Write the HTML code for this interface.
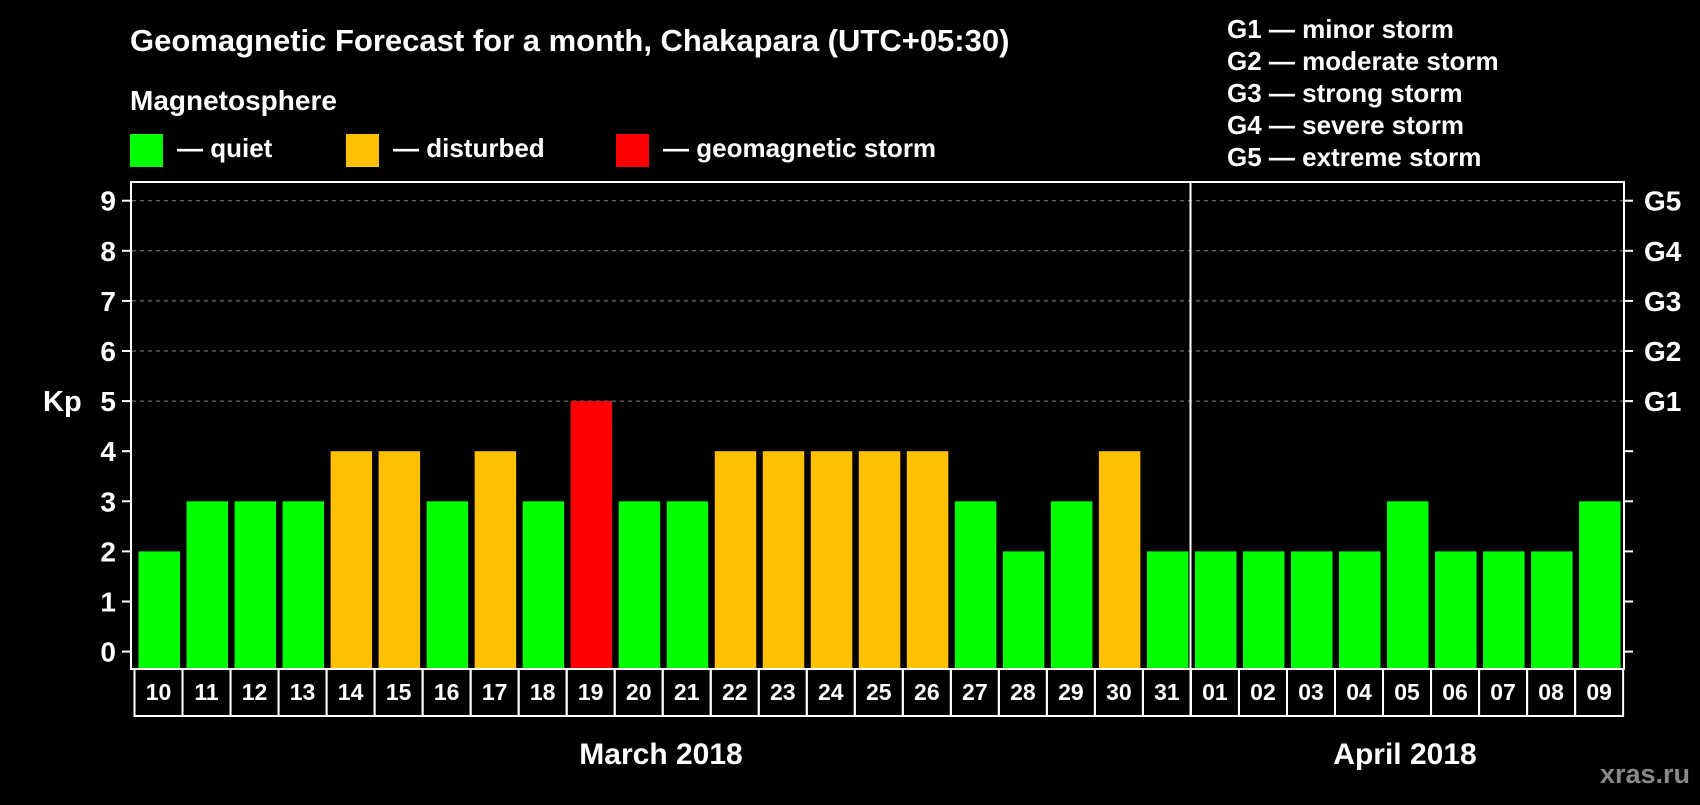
<!DOCTYPE html>
<html><head><meta charset="utf-8"><style>
body{margin:0;background:#000;}
svg text{font-family:"Liberation Sans",sans-serif;font-weight:bold;fill:#fff;}
</style></head><body>
<svg width="1700" height="800" xmlns="http://www.w3.org/2000/svg">
<rect width="1700" height="800" fill="#000"/>
<text x="130" y="51" font-size="31">Geomagnetic Forecast for a month, Chakapara (UTC+05:30)</text>
<text x="130" y="110" font-size="28">Magnetosphere</text>
<rect x="130" y="134" width="33" height="33" fill="#00ff00"/>
<text x="177" y="157" font-size="26">— quiet</text>
<rect x="346" y="134" width="33" height="33" fill="#ffc000"/>
<text x="393" y="157" font-size="26">— disturbed</text>
<rect x="616" y="134" width="33" height="33" fill="#ff0000"/>
<text x="663" y="157" font-size="26">— geomagnetic storm</text>
<g font-size="26">
<text x="1227" y="38">G1 — minor storm</text>
<text x="1227" y="70">G2 — moderate storm</text>
<text x="1227" y="102">G3 — strong storm</text>
<text x="1227" y="134">G4 — severe storm</text>
<text x="1227" y="166">G5 — extreme storm</text>
</g>
<text x="43" y="411" font-size="29">Kp</text>
<g id="grid"></g><g id="bars"></g><g id="cells"></g>
<rect x="131" y="182" width="1493" height="487" fill="none" stroke="#fff" stroke-width="2"/>
<line x1="1190.5" y1="182" x2="1190.5" y2="716" stroke="#fff" stroke-width="2"/>
<text x="661" y="764" font-size="30" text-anchor="middle">March 2018</text>
<text x="1405" y="764" font-size="30" text-anchor="middle">April 2018</text>
<text x="1690" y="783" font-size="27" text-anchor="end" style="fill:#888">xras.ru</text>
</svg>
<script>
const days=["10","11","12","13","14","15","16","17","18","19","20","21","22","23","24","25","26","27","28","29","30","31","01","02","03","04","05","06","07","08","09"];
const kpValues=[2,3,3,3,4,4,3,4,3,5,3,3,4,4,4,4,4,3,2,3,4,2,2,2,2,2,3,2,2,2,3];
const yTicks=[0,1,2,3,4,5,6,7,8,9];
const gLabels=["","","","","","G1","G2","G3","G4","G5"];
const NS="http://www.w3.org/2000/svg";
const x0=134.5,slot=48.02,plotBottom=669;
function y(v){return 651.6-v*50.1;}
function xs(i){return x0+i*slot;}
function mk(t,a,p){const e=document.createElementNS(NS,t);for(const k in a)e.setAttribute(k,a[k]);p.appendChild(e);return e;}
const grid=document.getElementById('grid'),bars=document.getElementById('bars'),cells=document.getElementById('cells');
yTicks.forEach((v,i)=>{
 if(v>=5){const l=mk('line',{x1:132,x2:1623,y1:y(v),y2:y(v),stroke:'#888','stroke-dasharray':'4 4'},grid);
 
 }
 const t1=mk('line',{x1:122,x2:131,y1:y(v),y2:y(v),stroke:'#fff','stroke-width':2},grid);
 
 
 const t2=mk('line',{x1:1624,x2:1633,y1:y(v),y2:y(v),stroke:'#fff','stroke-width':2},grid);
 
 
 const tl=mk('text',{x:116,y:y(v)+10,'font-size':28,'text-anchor':'end'},grid);tl.textContent=v;
 
 
 if(gLabels[i]){const g=mk('text',{x:1644,y:y(v)+10,'font-size':28},grid);g.textContent=gLabels[i];
 
 }
});
kpValues.forEach((v,i)=>{
 const c=v>=5?'#ff0000':v>=4?'#ffc000':'#00ff00';
 const b=mk('rect',{x:xs(i)+4,y:y(v),width:41.5,height:plotBottom-1-y(v),fill:c},bars);
 
 
 const r=mk('rect',{x:xs(i),y:plotBottom,width:slot,height:47,fill:'none',stroke:'#fff','stroke-width':2},cells);
 
 
 const t=mk('text',{x:xs(i)+slot/2,y:700,'font-size':23,'text-anchor':'middle'},cells);t.textContent=days[i];
 
 
});
</script>
</body></html>
